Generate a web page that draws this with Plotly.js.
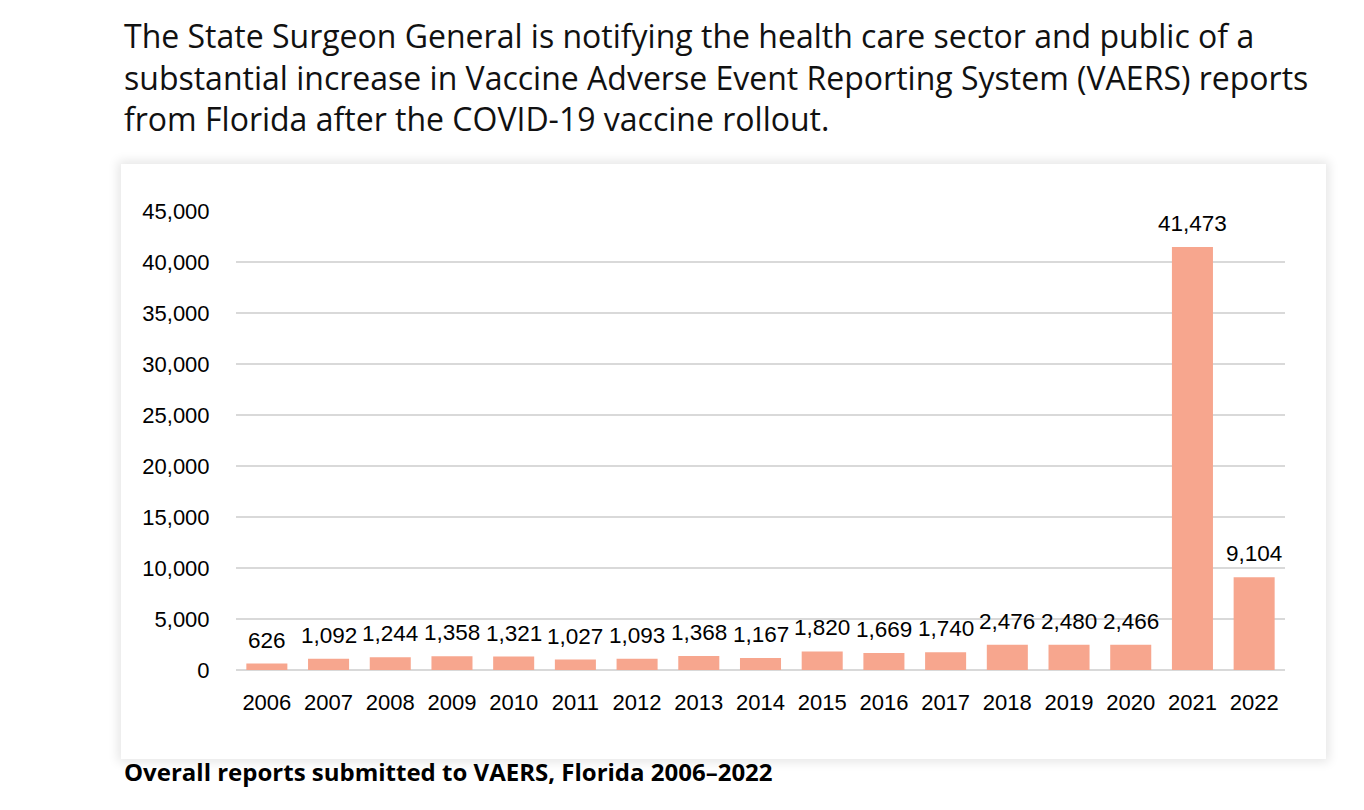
<!DOCTYPE html>
<html>
<head>
<meta charset="utf-8">
<script src="https://cdn.plot.ly/plotly-3.0.1.min.js"></script>
<style>
  html, body { margin: 0; padding: 0; background: #ffffff; width: 1364px; height: 810px; overflow: hidden; }
  #panel { position: absolute; left: 121px; top: 164px; width: 1205px; height: 595px; background: #ffffff;
           box-shadow: 0 0 10px 3px rgba(0,0,0,0.10); }
  #chart { position: absolute; left: 0; top: 0; width: 1364px; height: 810px; }
</style>
</head>
<body>
<div id="panel"></div>
<div id="chart"></div>
<script>
const years = ['2006','2007','2008','2009','2010','2011','2012','2013','2014','2015','2016','2017','2018','2019','2020','2021','2022'];
const reports = [626, 1092, 1244, 1358, 1321, 1027, 1093, 1368, 1167, 1820, 1669, 1740, 2476, 2480, 2466, 41473, 9104];
const yTicks = [0, 5000, 10000, 15000, 20000, 25000, 30000, 35000, 40000, 45000];
const titleLines = [
  'The State Surgeon General is notifying the health care sector and public of a',
  'substantial increase in Vaccine Adverse Event Reporting System (VAERS) reports',
  'from Florida after the COVID-19 vaccine rollout.'
];
const caption = 'Overall reports submitted to VAERS, Florida 2006–2022';

const numFont = '"Liberation Sans", Arial, sans-serif';
const fmt = v => v.toLocaleString('en-US');
const idx = years.map((_, i) => i);

const trace = {
  type: 'bar',
  x: idx,
  y: reports,
  marker: { color: '#f7a68e', line: { width: 0 } },
  hoverinfo: 'y'
};

const annotations = reports.map((v, i) => ({
  x: idx[i], y: v, xref: 'x', yref: 'y',
  text: fmt(v), showarrow: false, yanchor: 'bottom', yshift: 9,
  font: { family: numFont, size: 22.5, color: '#000000' }
}));

annotations.push({
  xref: 'paper', yref: 'paper', x: 0, y: 1, xanchor: 'left', yanchor: 'bottom',
  text: titleLines.join('<br>'), align: 'left', showarrow: false,
  xshift: 122 - 236, yshift: 211 - 142,
  font: { family: '"Open Sans", sans-serif', size: 32, color: '#111111' }
});
annotations.push({
  xref: 'paper', yref: 'paper', x: 0, y: 0, xanchor: 'left', yanchor: 'top',
  text: '<b>' + caption + '</b>', align: 'left', showarrow: false,
  xshift: 122 - 236, yshift: -(753 - 670),
  font: { family: '"Open Sans", sans-serif', size: 24, color: '#000000' }
});

const layout = {
  width: 1364, height: 810,
  margin: { l: 236, r: 79, t: 211, b: 140, pad: 0 },
  paper_bgcolor: 'rgba(0,0,0,0)',
  plot_bgcolor: 'rgba(0,0,0,0)',
  showlegend: false,
  bargap: 0.335,
  xaxis: {
    type: 'linear',
    range: [-0.5, years.length - 0.5],
    tickvals: idx,
    ticktext: years,
    tickfont: { family: numFont, size: 22, color: '#000000' },
    showgrid: false, zeroline: false, showline: false,
    ticks: 'outside', ticklen: 13, tickcolor: 'rgba(0,0,0,0)',
    fixedrange: true
  },
  yaxis: {
    range: [0, 45000],
    tickvals: yTicks,
    ticktext: yTicks.map(fmt),
    tickfont: { family: numFont, size: 22, color: '#000000' },
    showgrid: true, gridcolor: '#d9d9d9', gridwidth: 2,
    zeroline: true, zerolinecolor: '#d9d9d9', zerolinewidth: 2,
    showline: false,
    ticks: 'outside', ticklen: 21, tickcolor: 'rgba(0,0,0,0)',
    fixedrange: true
  },
  annotations: annotations
};

Plotly.newPlot('chart', [trace], layout, { displayModeBar: false, staticPlot: true });
</script>
</body>
</html>
